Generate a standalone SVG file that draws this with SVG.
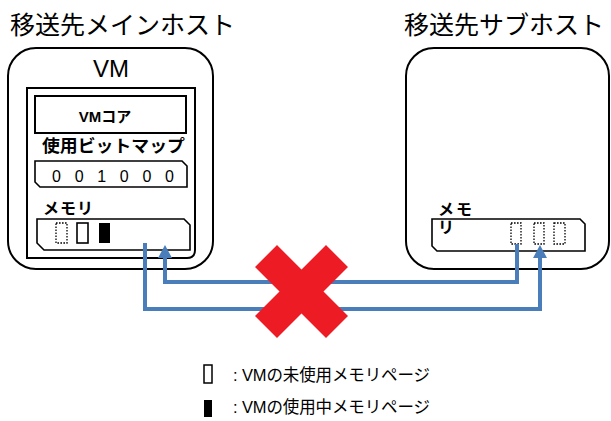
<svg xmlns="http://www.w3.org/2000/svg" width="611" height="421" viewBox="0 0 611 421">
<style>
text{font-family:"Liberation Sans","Noto Sans CJK JP",sans-serif;fill:#000}
.title{font-size:25px}
.bold{font-weight:bold}
.box{fill:#fff;stroke:#000;stroke-width:2}
.thin{fill:#fff;stroke:#000;stroke-width:1.6}
.dot{fill:#fff;stroke:#000;stroke-width:1.3;stroke-dasharray:1.6,1.4}
.flow{fill:none;stroke:#4A7EBB;stroke-width:4;marker-end:url(#ah)}
</style>
<defs>
<marker id="ah" markerUnits="userSpaceOnUse" viewBox="0 0 13 14" markerWidth="13" markerHeight="14" refX="0" refY="7" orient="auto">
<path d="M0,0 L13,7 L0,14 Z" fill="#4A7EBB"/>
</marker>
</defs>
<rect width="611" height="421" fill="#fff"/>
<text class="title" x="10" y="34">移送先メインホスト</text>
<text class="title" x="404" y="34">移送先サブホスト</text>

<g id="main-host">
<rect class="box" x="8" y="48" width="205" height="221" rx="28"/>
<text x="111" y="77" font-size="24" text-anchor="middle">VM</text>
<path class="box" d="M27,88 H195 V250 Q195,258 187,258 H27 Z"/>
<g id="vm-core">
<rect class="box" x="35" y="96" width="151" height="37"/>
<text class="bold" x="105" y="122" font-size="15" text-anchor="middle">VMコア</text>
</g>
<g id="bitmap">
<text class="bold" x="42" y="152" font-size="17" textLength="143" lengthAdjust="spacingAndGlyphs">使用ビットマップ</text>
<path class="thin" d="M35,161 H182 L187,166 V187 H40 L35,182 Z"/>
<text font-size="16" y="182" text-anchor="middle"><tspan x="56.5">0</tspan><tspan x="79.1">0</tspan><tspan x="101.7">1</tspan><tspan x="124.3">0</tspan><tspan x="146.9">0</tspan><tspan x="169.5">0</tspan></text>
</g>
<g id="main-memory">
<text class="bold" x="43" y="214" font-size="16" textLength="50" lengthAdjust="spacing">メモリ</text>
<path class="thin" d="M37,219 H184 L190,225 V250 H44 L37,243 Z"/>
<rect class="dot" x="56" y="223" width="11" height="20"/>
<rect class="thin" x="77" y="223" width="11" height="20"/>
<rect x="99" y="223" width="11" height="20" fill="#000"/>
</g>
</g>

<g id="sub-host">
<rect class="box" x="406" y="48" width="203" height="221" rx="28"/>
<g id="sub-memory">
<text class="bold" x="438" y="215" font-size="16" textLength="34" lengthAdjust="spacing">メモ</text>
<path class="thin" d="M432,219 H580 L585,224 V251 H437 L432,246 Z"/>
<text class="bold" x="438" y="233" font-size="16">リ</text>
<rect class="dot" x="511" y="223" width="10" height="21"/>
<rect class="dot" x="534" y="223" width="10" height="21"/>
<rect class="dot" x="554" y="223" width="11" height="21"/>
</g>
</g>

<g id="connectors">
<path class="flow" d="M145,243 V309 H540 V258"/>
<path class="flow" d="M517,244 V282 H165 V258"/>
</g>

<g id="blocked">
<polygon fill="#ED1C24" points="255,267 277,245 301.5,269.5 326,245 348,267 323.5,291.5 348,316 326,338 301.5,313.5 277,338 255,316 279.5,291.5"/>
</g>

<g id="legend">
<rect x="204" y="365" width="8" height="18" fill="#fff" stroke="#000" stroke-width="1.5"/>
<text x="233" y="381" font-size="16.5" textLength="197" lengthAdjust="spacing">: VMの未使用メモリページ</text>
<rect x="204" y="400" width="8" height="17" fill="#000"/>
<text x="233" y="413" font-size="16.5" textLength="197" lengthAdjust="spacing">: VMの使用中メモリページ</text>
</g>
</svg>
